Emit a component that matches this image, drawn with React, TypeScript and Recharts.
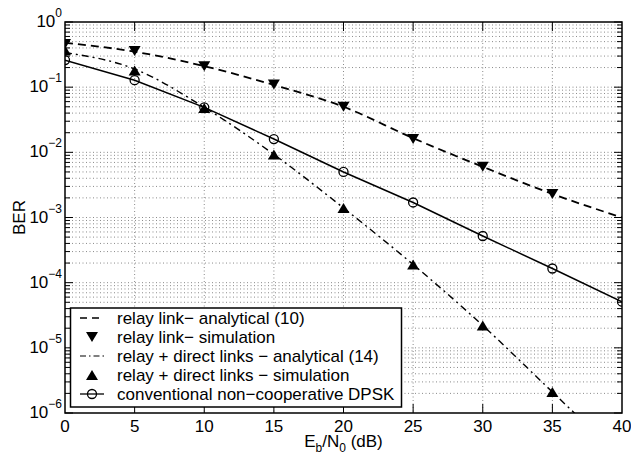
import React from "react";
import { ComposedChart, Line, XAxis, YAxis, CartesianGrid, ReferenceArea } from "recharts";

// Eb/N0 (dB) points
const ebn0 = [0, 5, 10, 15, 20, 25, 30, 35, 40];
const ebn0Sim = [0, 5, 10, 15, 20, 25, 30, 35];

// BER values
const relayAnalytical = [0.48, 0.35, 0.21, 0.108, 0.05, 0.0165, 0.006, 0.0023, 0.001];
const relaySimulation = [0.46, 0.36, 0.21, 0.11, 0.05, 0.016, 0.006, 0.0023];
const directAnalytical = [0.34, 0.19, 0.049, 0.0093, 0.0014, 0.00019, 0.000022, 0.0000021, 0.0000002];
const directSimulation = [0.37, 0.18, 0.048, 0.0093, 0.0014, 0.00019, 0.000022, 0.0000021];
const dpskConventional = [0.26, 0.128, 0.049, 0.016, 0.005, 0.0017, 0.00052, 0.000165, 0.000051];

const xTicks = [0, 5, 10, 15, 20, 25, 30, 35, 40];
const decadeTicks = [1e-6, 1e-5, 1e-4, 1e-3, 1e-2, 1e-1, 1];
const minorMantissas = [2, 3, 4, 5, 6, 7, 8, 9];

const legendLabels = [
  "relay link\u2212 analytical (10)",
  "relay link\u2212 simulation",
  "relay + direct links \u2212 analytical (14)",
  "relay + direct links \u2212 simulation",
  "conventional non\u2212cooperative DPSK",
];

const FONT = '"Liberation Sans", Arial, Helvetica, sans-serif';
const W = 631;
const H = 464;
const PLOT_W = 557;
const PLOT_H = 391;

const minorTicks = decadeTicks.slice(0, -1).flatMap((d) => minorMantissas.map((m) => m * d));
const yTicks = [...decadeTicks, ...minorTicks].sort((a, b) => a - b);
const gridY = yTicks.filter((v) => v > 1.5e-6 && v < 0.99);
const gridX = xTicks.slice(1, -1);

const toRows = (xs: number[], ys: number[]) => xs.map((x, i) => ({ x, y: ys[i] }));

const isDecade = (v: number) => {
  const e = Math.round(Math.log10(v));
  return Math.abs(v / Math.pow(10, e) - 1) < 1e-6;
};

const YTick = (props: any) => {
  const { x, y, payload } = props;
  const v = payload.value;
  const major = isDecade(v);
  const len = major ? 8 : 5;
  const exp = Math.round(Math.log10(v));
  return (
    <g>
      <line x1={x} x2={x + len} y1={y} y2={y} stroke="#000" strokeWidth={1} />
      <line x1={x + PLOT_W} x2={x + PLOT_W - len} y1={y} y2={y} stroke="#000" strokeWidth={1} />
      {major && (
        <text x={x - 3} y={y + 5} textAnchor="end" fontSize={17} fontFamily={FONT} fill="#000">
          <tspan>10</tspan>
          <tspan dy={-10} fontSize={12}>{exp === 0 ? "0" : "\u2212" + -exp}</tspan>
        </text>
      )}
    </g>
  );
};

const XTick = (props: any) => {
  const { x, y, payload } = props;
  const v = payload.value;
  const edge = v === xTicks[0] || v === xTicks[xTicks.length - 1];
  return (
    <g>
      {!edge && <line x1={x} x2={x} y1={y} y2={y - 9} stroke="#000" strokeWidth={1} />}
      {!edge && <line x1={x} x2={x} y1={y - PLOT_H} y2={y - PLOT_H + 9} stroke="#000" strokeWidth={1} />}
      <text x={x} y={y + 19} textAnchor="middle" fontSize={17} fontFamily={FONT} fill="#000">
        {v}
      </text>
    </g>
  );
};

const DownTri = (p: any) => {
  const { cx, cy } = p;
  if (cx == null || cy == null) return <g />;
  return <path d={`M${cx - 6},${cy - 5}L${cx + 6},${cy - 5}L${cx},${cy + 5}Z`} fill="#000" />;
};
const UpTri = (p: any) => {
  const { cx, cy } = p;
  if (cx == null || cy == null) return <g />;
  return <path d={`M${cx - 6},${cy + 5}L${cx + 6},${cy + 5}L${cx},${cy - 5}Z`} fill="#000" />;
};
const OpenCircle = (p: any) => {
  const { cx, cy } = p;
  if (cx == null || cy == null) return <g />;
  return <circle cx={cx} cy={cy} r={4.5} fill="none" stroke="#000" strokeWidth={1.3} />;
};

const BerLabel = (p: any) => {
  const vb = p.viewBox;
  const cx = 25;
  const cy = vb.y + vb.height / 2;
  return (
    <text x={cx} y={cy} transform={`rotate(-90 ${cx} ${cy})`} textAnchor="middle" fontSize={17} fontFamily={FONT} fill="#000">
      BER
    </text>
  );
};

const XLabel = (p: any) => {
  const vb = p.viewBox;
  return (
    <text x={vb.x + vb.width / 2} y={vb.y + 34} textAnchor="middle" fontSize={17} fontFamily={FONT} fill="#000">
      <tspan>E</tspan>
      <tspan dy={5} fontSize={12}>b</tspan>
      <tspan dy={-5}>/N</tspan>
      <tspan dy={5} fontSize={12}>0</tspan>
      <tspan dy={-5}> (dB)</tspan>
    </text>
  );
};

const LegendBox = () => {
  const rowY = [11, 30, 49, 68, 87];
  return (
    <svg width={334} height={101} style={{ position: "absolute", left: 69, top: 307 }}>
      <rect x={1.5} y={1} width={331} height={99} fill="#fff" stroke="#000" strokeWidth={1.5} />
      <line x1={11} x2={35} y1={rowY[0]} y2={rowY[0]} stroke="#000" strokeWidth={1.6} strokeDasharray="7 5" />
      <DownTri cx={23} cy={rowY[1]} />
      <line x1={11} x2={35} y1={rowY[2]} y2={rowY[2]} stroke="#000" strokeWidth={1.2} strokeDasharray="6 3 1.5 3" />
      <UpTri cx={23} cy={rowY[3]} />
      <line x1={11} x2={35} y1={rowY[4]} y2={rowY[4]} stroke="#000" strokeWidth={1.3} />
      <OpenCircle cx={23} cy={rowY[4]} />
      {legendLabels.map((t, i) => (
        <text key={t} x={48} y={rowY[i] + 5.5} fontSize={17} fontFamily={FONT} fill="#000">
          {t}
        </text>
      ))}
    </svg>
  );
};

export default function App() {
  return (
    <div style={{ position: "absolute", left: 0, top: 0, width: W, height: H, background: "#fff" }}>
      <ComposedChart width={W} height={H} margin={{ top: 22, right: 9, bottom: 11, left: 15 }}>
        <CartesianGrid
          horizontalValues={gridY}
          verticalValues={gridX}
          stroke="#8a8a8a"
          strokeDasharray="1 2.5"
          strokeWidth={1}
        />
        <XAxis
          type="number"
          dataKey="x"
          domain={[0, 40]}
          ticks={xTicks}
          interval={0}
          allowDataOverflow
          height={40}
          tickSize={0}
          tickMargin={0}
          tickLine={false}
          axisLine={false}
          tick={<XTick />}
          label={<XLabel />}
        />
        <YAxis
          type="number"
          dataKey="y"
          scale="log"
          domain={[1e-6, 1]}
          ticks={yTicks}
          interval={0}
          allowDataOverflow
          width={50}
          tickSize={0}
          tickMargin={0}
          tickLine={false}
          axisLine={false}
          tick={<YTick />}
          label={<BerLabel />}
        />
        <Line
          data={toRows(ebn0, relayAnalytical)}
          dataKey="y"
          type="monotone"
          stroke="#000"
          strokeWidth={1.8}
          strokeDasharray="8 5"
          dot={false}
          isAnimationActive={false}
        />
        <Line
          data={toRows(ebn0, directAnalytical)}
          dataKey="y"
          type="monotone"
          stroke="#000"
          strokeWidth={1.4}
          strokeDasharray="7 4 2 4"
          dot={false}
          isAnimationActive={false}
        />
        <Line
          data={toRows(ebn0, dpskConventional)}
          dataKey="y"
          type="linear"
          stroke="#000"
          strokeWidth={1.5}
          dot={<OpenCircle />}
          isAnimationActive={false}
        />
        <Line
          data={toRows(ebn0Sim, relaySimulation)}
          dataKey="y"
          stroke="none"
          dot={<DownTri />}
          isAnimationActive={false}
        />
        <Line
          data={toRows(ebn0Sim, directSimulation)}
          dataKey="y"
          stroke="none"
          dot={<UpTri />}
          isAnimationActive={false}
        />
        <ReferenceArea x1={0} x2={40} y1={1e-6} y2={1} fill="none" stroke="#000" strokeWidth={1.5} />
      </ComposedChart>
      <LegendBox />
    </div>
  );
}
